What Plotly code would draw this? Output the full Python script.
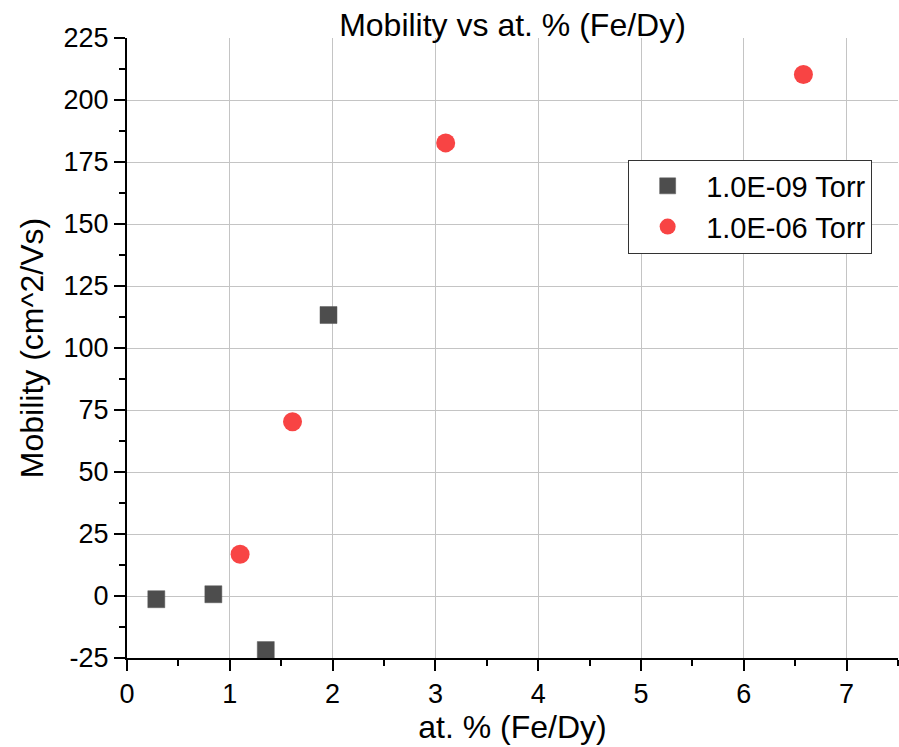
import plotly.graph_objects as go

# Data
x_1e09 = [0.285, 0.84, 1.35, 1.96]
y_1e09 = [-1.3, 0.7, -21.8, 113.3]

x_1e06 = [1.10, 1.61, 3.10, 6.58]
y_1e06 = [16.8, 70.3, 182.7, 210.3]

series_names = ["1.0E-09 Torr", "1.0E-06 Torr"]
x_ticks = [0, 1, 2, 3, 4, 5, 6, 7]
y_ticks = [-25, 0, 25, 50, 75, 100, 125, 150, 175, 200, 225]
y_tick_labels = ["-25", "0", "25", "50", "75", "100", "125", "150", "175", "200", "225"]

FONT = "Liberation Sans, Arial, sans-serif"

fig = go.Figure()
fig.add_trace(go.Scatter(
    x=x_1e09, y=y_1e09, mode="markers", name=series_names[0],
    marker=dict(symbol="square", size=17, color="#4d4d4d",
                line=dict(color="#5a5a5a", width=0.5)),
))
fig.add_trace(go.Scatter(
    x=x_1e06, y=y_1e06, mode="markers", name=series_names[1],
    marker=dict(symbol="circle", size=19, color="#f84444",
                line=dict(width=0)),
))

axis_common = dict(
    showline=True, linecolor="black", linewidth=2,
    ticks="outside", ticklen=11, tickwidth=2, tickcolor="black",
    showgrid=True, gridcolor="#c4c4c4", gridwidth=1,
    zeroline=False, mirror=False,
    tickfont=dict(family=FONT, size=27, color="black"),
)

fig.update_layout(
    width=899, height=747,
    margin=dict(l=127, r=1, t=38, b=89),
    paper_bgcolor="white", plot_bgcolor="white",
    font=dict(family=FONT, color="black"),
    title=dict(text="Mobility vs at. % (Fe/Dy)", x=0.5, xref="paper",
               y=1 - 25 / 747, yref="container", yanchor="middle",
               font=dict(family=FONT, size=32, color="black")),
    xaxis=dict(
        range=[0, 7.5], tickvals=x_ticks,
        minor=dict(ticks="outside", ticklen=6, tickwidth=2, tickcolor="black",
                   dtick=0.5, tick0=0, showgrid=False),
        title=dict(text="at. % (Fe/Dy)", font=dict(family=FONT, size=32), standoff=4),
        **axis_common,
    ),
    yaxis=dict(
        range=[-25, 225], tickvals=y_ticks, ticktext=y_tick_labels,
        minor=dict(ticks="outside", ticklen=6, tickwidth=2, tickcolor="black",
                   dtick=12.5, tick0=0, showgrid=False),
        title=dict(text="Mobility (cm^2/Vs)", font=dict(family=FONT, size=32), standoff=10),
        **axis_common,
    ),
    legend=dict(
        x=0.65, y=0.804, xanchor="left", yanchor="top",
        bgcolor="white", bordercolor="#333333", borderwidth=1,
        font=dict(family=FONT, size=29, color="black"),
        itemwidth=67, tracegroupgap=0,
    ),
    showlegend=True,
)

fig.write_html("out.html")
